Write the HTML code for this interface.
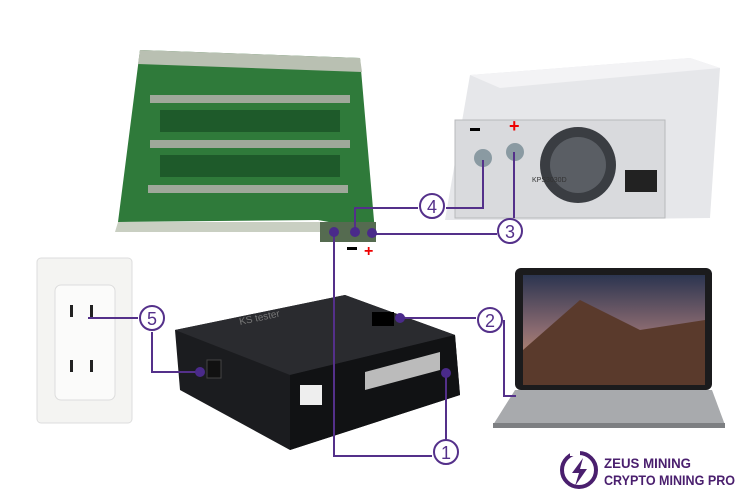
<!DOCTYPE html>
<html><head><style>
body{margin:0;background:#fff;}
svg{display:block}
text{font-family:"Liberation Sans",sans-serif}
</style></head><body>
<svg width="750" height="500" viewBox="0 0 750 500" xmlns="http://www.w3.org/2000/svg">
<defs>
<linearGradient id="sky" x1="0" y1="0" x2="0" y2="1"><stop offset="0" stop-color="#2c3550"/><stop offset="0.5" stop-color="#8a6a70"/><stop offset="1" stop-color="#d8a070"/></linearGradient>
</defs>
<!-- PCB -->
<polygon points="140,50 360,58 375,232 345,225 318,220 118,222" fill="#2f7a3a"/>
<polygon points="140,50 360,58 362,72 138,64" fill="#b9c0b2"/>
<g fill="#9fa89a">
<rect x="150" y="95" width="200" height="8"/><rect x="150" y="140" width="200" height="8"/><rect x="148" y="185" width="200" height="8"/>
</g>
<g fill="#1e5a2a"><rect x="160" y="110" width="180" height="22"/><rect x="160" y="155" width="180" height="22"/></g>
<polygon points="118,222 320,222 320,232 115,232" fill="#c9cfc2"/>
<rect x="320" y="222" width="56" height="20" fill="#556b50"/>
<!-- PSU -->
<polygon points="470,75 690,58 720,68 710,218 545,220 445,220" fill="#e6e7ea"/>
<rect x="455" y="120" width="210" height="98" fill="#d9dadd" stroke="#b8b9bc"/>
<polygon points="470,75 690,58 720,68 500,88" fill="#f3f3f5"/>
<circle cx="578" cy="165" r="38" fill="#3a3d42"/>
<circle cx="578" cy="165" r="28" fill="#5a5e64"/>
<rect x="625" y="170" width="32" height="22" fill="#222"/>
<circle cx="483" cy="158" r="9" fill="#8a9aa2"/><circle cx="515" cy="152" r="9" fill="#8a9aa2"/>
<rect x="470" y="128" width="10" height="3" fill="#000"/>
<text x="509" y="132" fill="#e00" font-size="18" font-weight="bold">+</text>
<text x="532" y="182" font-size="7" fill="#333">KPS3030D</text>
<!-- outlet -->
<rect x="37" y="258" width="95" height="165" rx="4" fill="#f4f4f2" stroke="#ddd"/>
<rect x="55" y="285" width="60" height="115" rx="6" fill="#fbfbfa" stroke="#ddd"/>
<g fill="#222"><rect x="70" y="305" width="3" height="12"/><rect x="90" y="305" width="3" height="12"/><rect x="70" y="360" width="3" height="12"/><rect x="90" y="360" width="3" height="12"/></g>
<!-- tester -->
<polygon points="175,330 345,295 455,335 460,395 290,450 180,390" fill="#1b1c1f"/>
<polygon points="175,330 345,295 455,335 290,375" fill="#2a2b2f"/>
<polygon points="290,375 455,335 460,395 290,450" fill="#111214"/>
<rect x="372" y="312" width="22" height="14" fill="#000"/>
<rect x="300" y="385" width="22" height="20" fill="#eee"/>
<polygon points="365,372 440,352 440,370 365,390" fill="#bbb"/>
<rect x="207" y="360" width="14" height="18" fill="#111" stroke="#444"/>
<text x="240" y="325" font-size="10" fill="#777" transform="rotate(-12 240 325)">KS tester</text>
<!-- laptop -->
<rect x="515" y="268" width="197" height="122" rx="6" fill="#1b1b1d"/>
<rect x="523" y="275" width="182" height="110" fill="url(#sky)"/>
<polygon points="523,350 580,300 640,330 705,320 705,385 523,385" fill="#5a3a2c"/>
<polygon points="515,390 712,390 725,425 493,425" fill="#a8aaad"/>
<rect x="493" y="423" width="232" height="5" fill="#7d7f82"/>
<!-- connectors -->
<g stroke="#54308a" stroke-width="2" fill="none">
<polyline points="334,232 334,456 432,456"/>
<polyline points="446,440 446,373"/>
<polyline points="355,232 355,208 418,208"/>
<polyline points="446,208 483,208 483,160"/>
<polyline points="372,234 497,234"/>
<polyline points="514,218 514,152"/>
<polyline points="400,318 476,318"/>
<polyline points="504,320 504,396 516,396"/>
<polyline points="88,318 138,318"/>
<polyline points="152,332 152,372 200,372"/>
</g>
<g fill="#4a2a8a"><circle cx="334" cy="232" r="5"/><circle cx="355" cy="232" r="5"/><circle cx="372" cy="233" r="5"/><circle cx="400" cy="318" r="5"/><circle cx="446" cy="373" r="5"/><circle cx="200" cy="372" r="5"/></g>
<g fill="#fff" stroke="#54308a" stroke-width="2">
<circle cx="446" cy="452" r="12"/><circle cx="490" cy="320" r="12"/><circle cx="510" cy="231" r="12"/><circle cx="432" cy="206" r="12"/><circle cx="152" cy="318" r="12"/>
</g>
<g fill="#54308a" font-size="18" text-anchor="middle">
<text x="446" y="459">1</text><text x="490" y="327">2</text><text x="510" y="238">3</text><text x="432" y="213">4</text><text x="152" y="325">5</text>
</g>
<rect x="347" y="247" width="10" height="3" fill="#000"/>
<text x="364" y="256" fill="#e00" font-size="16" font-weight="bold">+</text>
<!-- logo -->
<circle cx="579" cy="470" r="17" fill="none" stroke="#4a1f6e" stroke-width="4"/>
<rect x="570" y="448" width="10" height="8" fill="#fff"/>
<polygon points="583,458 572,473 579,473 575,486 587,469 580,469" fill="#4a1f6e"/>
<text x="604" y="468" font-size="14" fill="#4a1f6e" font-weight="bold" textLength="87" lengthAdjust="spacingAndGlyphs">ZEUS MINING</text>
<text x="604" y="485" font-size="14" fill="#4a1f6e" font-weight="bold" textLength="131" lengthAdjust="spacingAndGlyphs">CRYPTO MINING PRO</text>
</svg>
</body></html>
